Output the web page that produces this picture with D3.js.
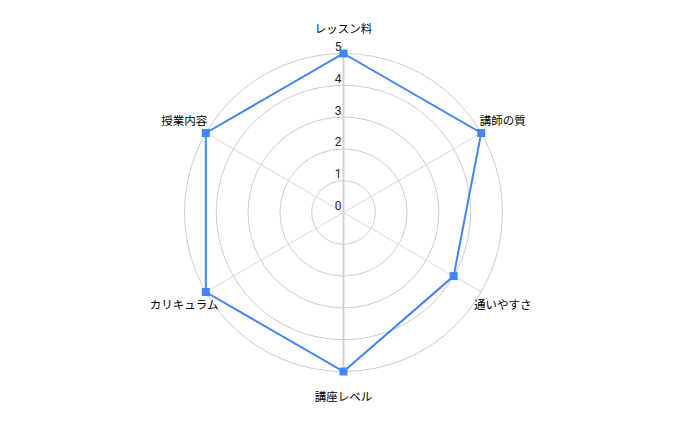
<!DOCTYPE html>
<html>
<head>
<meta charset="utf-8">
<script src="https://cdn.jsdelivr.net/npm/d3@7"></script>
<style>
  body { margin: 0; background: #fff; }
  text { font-family: Roboto, "Noto Sans CJK JP", sans-serif; }
</style>
</head>
<body>
<script>
        //chart size
        var width = 688;
        var height = 425;

        //data
        var categories = ["レッスン料", "講師の質", "通いやすさ", "講座レベル", "カリキュラム", "授業内容"];
        var values = [5, 5, 4, 5, 5, 5];
        var ticks = [0, 1, 2, 3, 4, 5];

        var cx = 343.5, cy = 212.5;
        var maxR = 159;

        //radial scale and angle scale
        var r = d3.scaleLinear().domain([0, 5]).range([0, maxR]);
        var angle = d3.scalePoint().domain(categories).range([0, 2 * Math.PI * (categories.length - 1) / categories.length]);

        function px(a, rad) { return Math.sin(a) * rad; }
        function py(a, rad) { return -Math.cos(a) * rad; }

        var svg = d3.select("body")
                    .append("svg")
                    .attr("width", width)
                    .attr("height", height);

        var g = svg.append("g").attr("transform", "translate(" + cx + "," + cy + ")");

        //grid circles
        g.selectAll("circle.grid")
         .data(ticks.filter(function(t) { return t > 0; }))
         .enter()
         .append("circle")
         .attr("class", "grid")
         .attr("r", function(d) { return r(d); })
         .attr("fill", "none")
         .attr("stroke", "#cccccc")
         .attr("stroke-width", 1);

        //spokes, the vertical ones are a bit heavier
        g.selectAll("line.spoke")
         .data(categories)
         .enter()
         .append("line")
         .attr("class", "spoke")
         .attr("x1", 0)
         .attr("y1", 0)
         .attr("x2", function(d) { return px(angle(d), r(5)); })
         .attr("y2", function(d) { return py(angle(d), r(5)); })
         .attr("stroke", function(d, i) { return (i == 0 || i == 3) ? "#d0d0d0" : "#d9d9d9"; })
         .attr("stroke-width", function(d, i) { return (i == 0 || i == 3) ? 2 : 1; });

        //tick labels along the top axis
        g.selectAll("text.tick")
         .data(ticks)
         .enter()
         .append("text")
         .attr("class", "tick")
         .attr("x", -2)
         .attr("y", function(d) { return -r(d) - 2.5; })
         .attr("text-anchor", "end")
         .attr("font-size", "12px")
         .attr("fill", "#222")
         .text(function(d) { return d; });

        //data polygon
        var line = d3.lineRadial()
                     .angle(function(d, i) { return angle(categories[i]); })
                     .radius(function(d) { return r(d); })
                     .curve(d3.curveLinearClosed);

        g.append("path")
         .datum(values)
         .attr("d", line)
         .attr("fill", "none")
         .attr("stroke", "#4285f4")
         .attr("stroke-width", 2);

        //square markers
        g.selectAll("rect.point")
         .data(values)
         .enter()
         .append("rect")
         .attr("class", "point")
         .attr("x", function(d, i) { return px(angle(categories[i]), r(d)) - 4; })
         .attr("y", function(d, i) { return py(angle(categories[i]), r(d)) - 4; })
         .attr("width", 8)
         .attr("height", 8)
         .attr("fill", "#4285f4");

        //category labels
        g.selectAll("text.cat")
         .data(categories)
         .enter()
         .append("text")
         .attr("class", "cat")
         .attr("x", function(d) { return px(angle(d), 184); })
         .attr("y", function(d) { return py(angle(d), 184) + 4; })
         .attr("text-anchor", "middle")
         .attr("font-size", "11.5px")
         .attr("fill", "#000")
         .style("font-family", "'Noto Sans CJK JP', sans-serif")
         .text(function(d) { return d; });
</script>
</body>
</html>
